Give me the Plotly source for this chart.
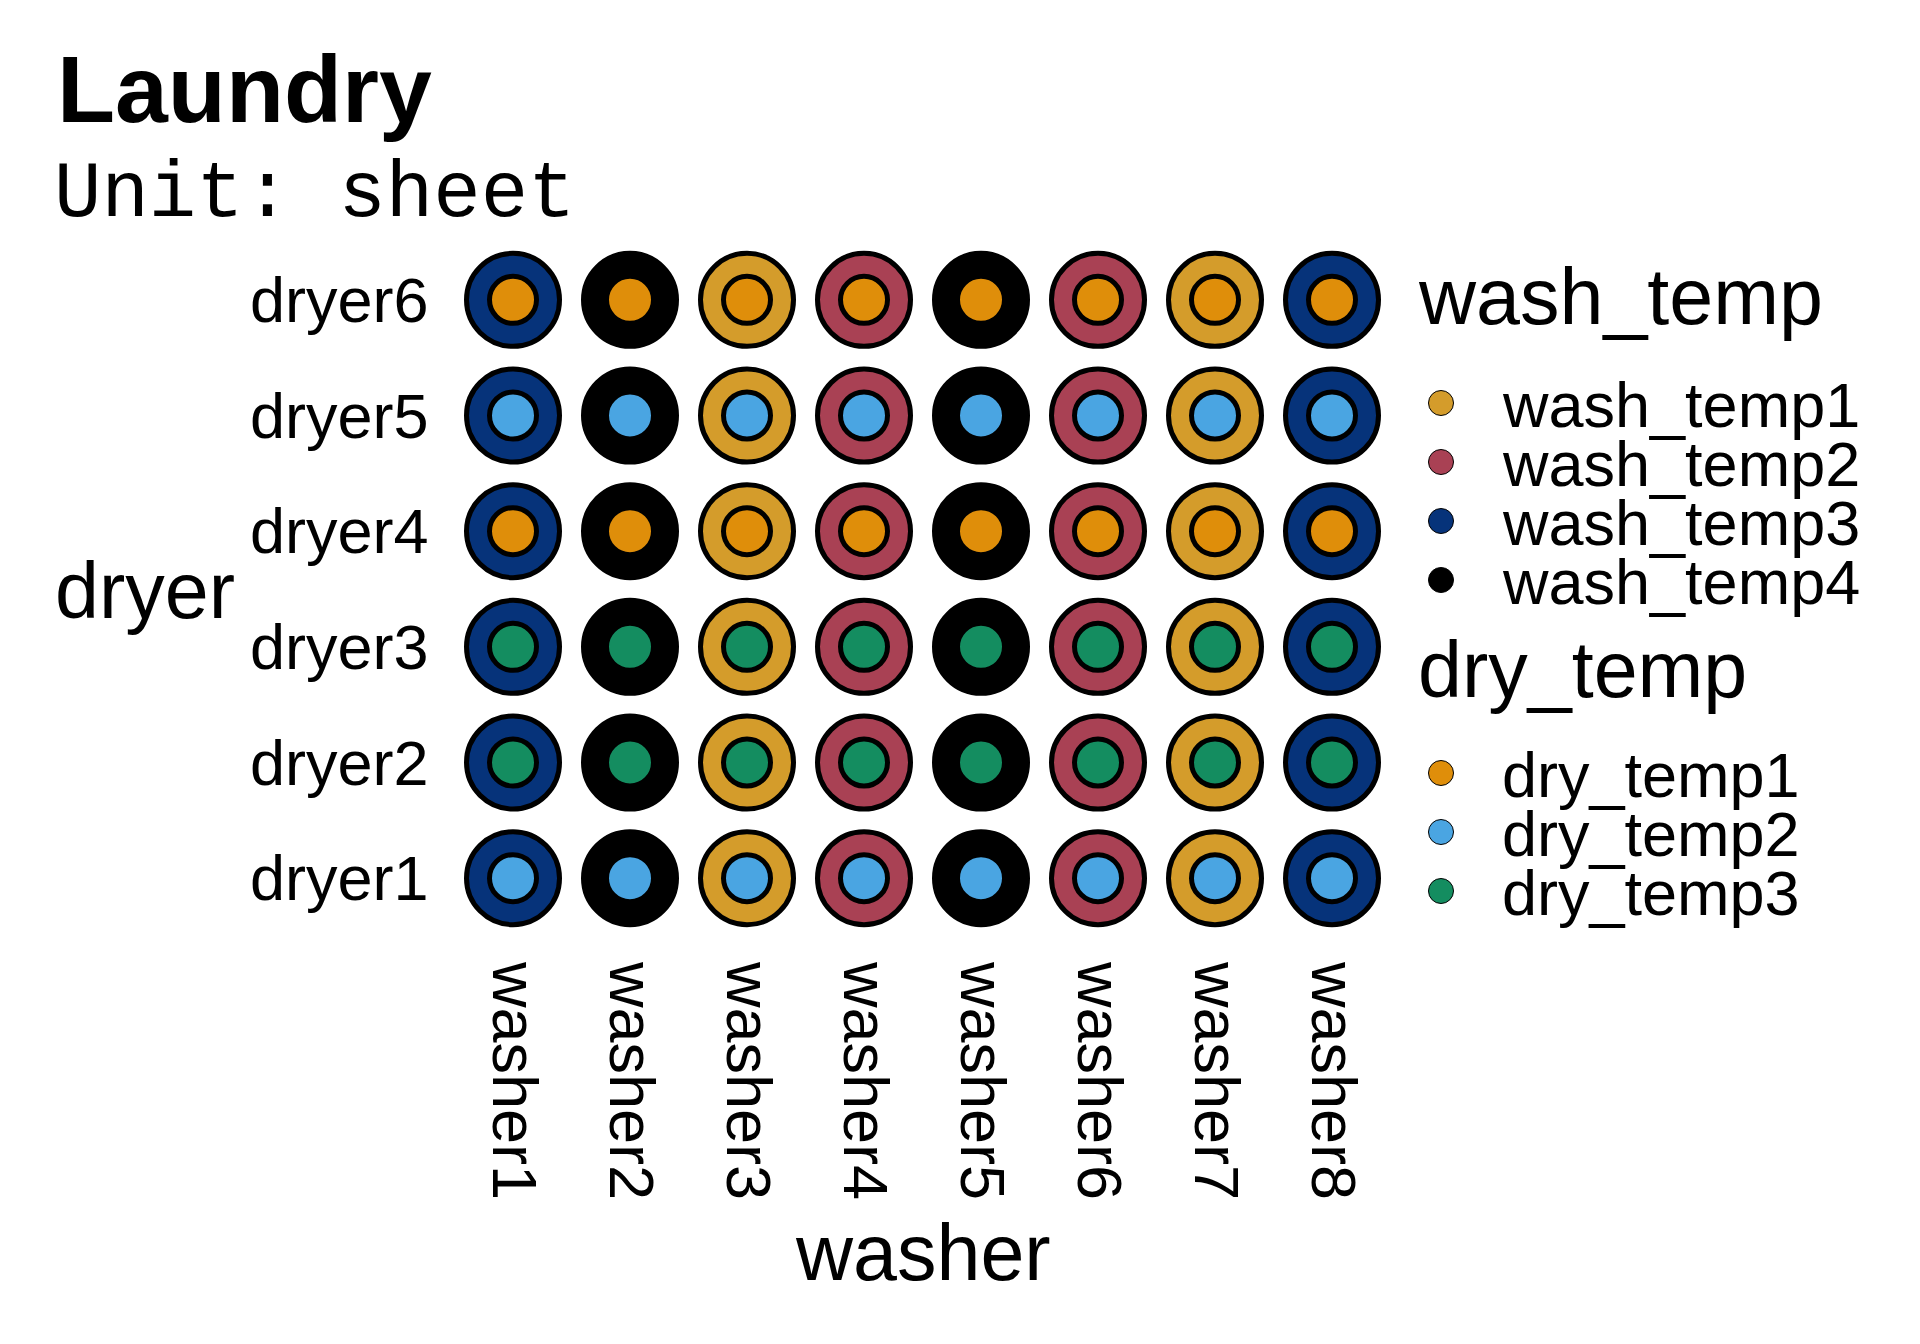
import plotly.graph_objects as go

# ---------------- data ----------------
washers = ["washer1", "washer2", "washer3", "washer4", "washer5", "washer6", "washer7", "washer8"]
dryers = ["dryer1", "dryer2", "dryer3", "dryer4", "dryer5", "dryer6"]
washer_wash_temp = ["wash_temp3", "wash_temp4", "wash_temp1", "wash_temp2",
                    "wash_temp4", "wash_temp2", "wash_temp1", "wash_temp3"]
dryer_dry_temp = ["dry_temp2", "dry_temp3", "dry_temp3", "dry_temp1", "dry_temp2", "dry_temp1"]

wash_levels = ["wash_temp1", "wash_temp2", "wash_temp3", "wash_temp4"]
wash_colors = ["#D49C2B", "#A94154", "#06337A", "#000000"]
dry_levels = ["dry_temp1", "dry_temp2", "dry_temp3"]
dry_colors = ["#DF8E0A", "#4AA5E2", "#148D60"]

title_text = "Laundry"
subtitle_text = "Unit: sheet"

# ---------------- helpers ----------------
W, H = 1920, 1344
SANS = "Liberation Sans, Arial, sans-serif"
MONO = "Liberation Mono, Courier New, monospace"


def px(x):
    return x / W


def py(y):
    return 1 - y / H


wash_map = dict(zip(wash_levels, wash_colors))
dry_map = dict(zip(dry_levels, dry_colors))

gx, gy, outer_c, inner_c = [], [], [], []
for wi, w in enumerate(washers):
    for di, d in enumerate(dryers):
        gx.append(w)
        gy.append(d)
        outer_c.append(wash_map[washer_wash_temp[wi]])
        inner_c.append(dry_map[dryer_dry_temp[di]])

fig = go.Figure()
fig.add_trace(go.Scatter(
    x=gx, y=gy, mode="markers", showlegend=False, hoverinfo="skip",
    marker=dict(size=93, color=outer_c, line=dict(color="black", width=5)),
))
fig.add_trace(go.Scatter(
    x=gx, y=gy, mode="markers", showlegend=False, hoverinfo="skip",
    marker=dict(size=47, color=inner_c, line=dict(color="black", width=5)),
))

# ---------------- legend (drawn on a pixel-scaled overlay axis) ----------------
leg_key_x = 1441
leg_text_x = 1500
leg_title_x = 1416
groups = [
    ("wash_temp", wash_levels, wash_colors, 297, 403),
    ("dry_temp", dry_levels, dry_colors, 669, 773),
]
step = 59
annotations = []
for gtitle, levels, colors, ty, y0 in groups:
    annotations.append(dict(
        text=gtitle, x=px(leg_title_x), y=py(ty), xref="paper", yref="paper",
        xanchor="left", yanchor="middle", showarrow=False,
        font=dict(family=SANS, size=79, color="black")))
    ys = [y0 + i * step for i in range(len(levels))]
    fig.add_trace(go.Scatter(
        x=[leg_key_x] * len(levels), y=ys, xaxis="x2", yaxis="y2",
        mode="markers", showlegend=False, hoverinfo="skip",
        marker=dict(size=25, color=colors, line=dict(color="black", width=1)),
    ))
    for lvl, yy in zip(levels, ys):
        annotations.append(dict(
            text=lvl, x=px(leg_text_x), y=py(yy + 2), xref="paper", yref="paper",
            xanchor="left", yanchor="middle", showarrow=False,
            font=dict(family=SANS, size=63, color="black")))

# titles / axis titles
annotations += [
    dict(text="<b>" + title_text + "</b>", x=px(55), y=py(89), xref="paper", yref="paper",
         xanchor="left", yanchor="middle", showarrow=False,
         font=dict(family=SANS, size=95, color="black")),
    dict(text=subtitle_text, x=px(52), y=py(195), xref="paper", yref="paper",
         xanchor="left", yanchor="middle", showarrow=False,
         font=dict(family=MONO, size=79, color="black")),
    dict(text="washer", x=px(923), y=py(1252), xref="paper", yref="paper",
         xanchor="center", yanchor="middle", showarrow=False,
         font=dict(family=SANS, size=79, color="black")),
    dict(text="dryer", x=px(53), y=py(590), xref="paper", yref="paper",
         xanchor="left", yanchor="middle", showarrow=False,
         font=dict(family=SANS, size=79, color="black")),
]

x_left, x_right = 454.5, 1390.5
y_top, y_bot = 242, 936

fig.update_layout(
    width=W, height=H, margin=dict(l=0, r=0, t=0, b=0),
    paper_bgcolor="white", plot_bgcolor="rgba(0,0,0,0)",
    font=dict(family=SANS, color="black"),
    xaxis=dict(domain=[px(x_left), px(x_right)], type="category",
               categoryorder="array", categoryarray=washers, range=[-0.5, 7.5],
               showgrid=False, zeroline=False, showline=False, ticks="",
               tickangle=90, ticklabelstandoff=25,
               tickfont=dict(family=SANS, size=63, color="black"), anchor="y"),
    yaxis=dict(domain=[py(y_bot), py(y_top)], type="category",
               categoryorder="array", categoryarray=dryers, range=[-0.5, 5.5],
               showgrid=False, zeroline=False, showline=False, ticks="",
               ticklabelstandoff=25,
               tickfont=dict(family=SANS, size=63, color="black"), anchor="x"),
    xaxis2=dict(domain=[0, 1], range=[0, W], visible=False, anchor="y2", fixedrange=True),
    yaxis2=dict(domain=[0, 1], range=[H, 0], visible=False, anchor="x2", fixedrange=True),
    annotations=annotations,
    showlegend=False,
)

fig.write_html("out.html")
